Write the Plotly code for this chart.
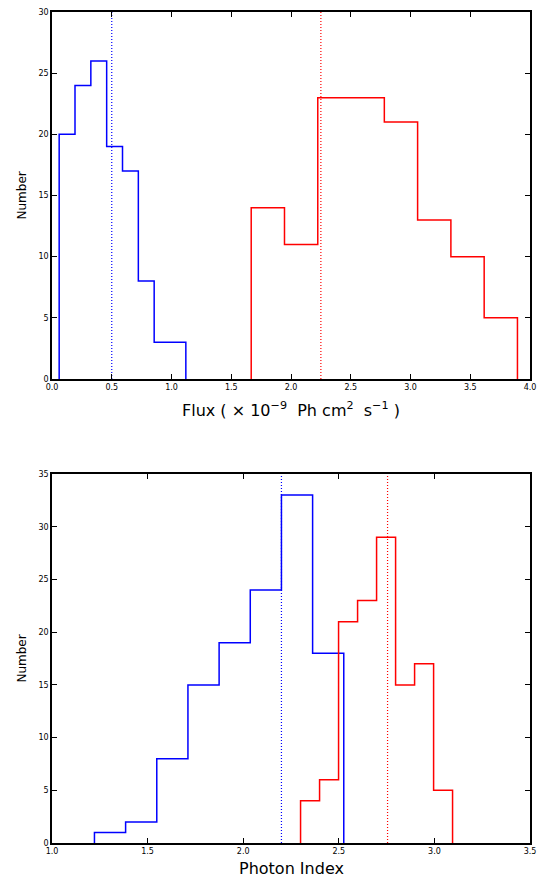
import plotly.graph_objects as go

# ---- data ----
flux_blue_edges = [0.06, 0.1925, 0.325, 0.4575, 0.59, 0.7225, 0.855, 0.9875, 1.12]
flux_blue_counts = [20, 24, 26, 19, 17, 8, 3, 3]
flux_red_edges = [1.667, 1.9455, 2.224, 2.5025, 2.781, 3.0595, 3.338, 3.6165, 3.895]
flux_red_counts = [14, 11, 23, 23, 21, 13, 10, 5]
flux_blue_mean = 0.50
flux_red_mean = 2.25

idx_blue_edges = [1.222, 1.385, 1.548, 1.711, 1.874, 2.037, 2.200, 2.363, 2.526]
idx_blue_counts = [1, 2, 8, 15, 19, 24, 33, 18]
idx_red_edges = [2.300, 2.3994, 2.4988, 2.5982, 2.6976, 2.797, 2.8964, 2.9958, 3.095]
idx_red_counts = [4, 6, 21, 23, 29, 15, 17, 5]
idx_blue_mean = 2.20
idx_red_mean = 2.755

flux_xticks = [0.0, 0.5, 1.0, 1.5, 2.0, 2.5, 3.0, 3.5, 4.0]
flux_yticks = [0, 5, 10, 15, 20, 25, 30]
idx_xticks = [1.0, 1.5, 2.0, 2.5, 3.0, 3.5]
idx_yticks = [0, 5, 10, 15, 20, 25, 30, 35]


def step_xy(edges, counts):
    xs, ys = [edges[0]], [0]
    for i, c in enumerate(counts):
        xs += [edges[i], edges[i + 1]]
        ys += [c, c]
    xs.append(edges[-1])
    ys.append(0)
    return xs, ys


fig = go.Figure()
BLUE = "rgb(0,0,255)"
RED = "rgb(255,0,0)"

for edges, counts, col, ax in [
    (flux_blue_edges, flux_blue_counts, BLUE, ("x", "y")),
    (flux_red_edges, flux_red_counts, RED, ("x", "y")),
    (idx_blue_edges, idx_blue_counts, BLUE, ("x2", "y2")),
    (idx_red_edges, idx_red_counts, RED, ("x2", "y2")),
]:
    xs, ys = step_xy(edges, counts)
    fig.add_trace(go.Scatter(x=xs, y=ys, mode="lines", line=dict(color=col, width=1.5),
                             xaxis=ax[0], yaxis=ax[1], showlegend=False, hoverinfo="skip"))

for m, col, ax, top in [
    (flux_blue_mean, BLUE, ("x", "y"), 30),
    (flux_red_mean, RED, ("x", "y"), 30),
    (idx_blue_mean, BLUE, ("x2", "y2"), 35),
    (idx_red_mean, RED, ("x2", "y2"), 35),
]:
    fig.add_trace(go.Scatter(x=[m, m], y=[0, top], mode="lines",
                             line=dict(color=col, width=1.2, dash="1px,2px"),
                             xaxis=ax[0], yaxis=ax[1], showlegend=False, hoverinfo="skip"))

axis_common = dict(showgrid=False, zeroline=False, showline=True, linecolor="black",
                   linewidth=1.5, mirror="ticks", ticks="inside", ticklen=5,
                   tickwidth=1, tickcolor="black", automargin=False,
                   ticklabeloverflow="allow",
                   tickfont=dict(family="DejaVu Sans", size=8, color="black"))

TOP_DOM = [0.5584, 1]
BOT_DOM = [0, 0.444]

fig.update_layout(
    width=541, height=874,
    margin=dict(l=44, r=19, t=4, b=39),
    plot_bgcolor="white", paper_bgcolor="white",
    font=dict(family="DejaVu Sans", color="black"),
    xaxis=dict(range=[0, 4], tickvals=flux_xticks, ticktext=[f"{v:.1f}" for v in flux_xticks],
               anchor="y", domain=[0, 1], **axis_common),
    yaxis=dict(range=[0, 30], tickvals=flux_yticks, anchor="x", domain=TOP_DOM, **axis_common),
    xaxis2=dict(range=[1, 3.5], tickvals=idx_xticks, ticktext=[f"{v:.1f}" for v in idx_xticks],
                anchor="y2", domain=[0, 1], **axis_common),
    yaxis2=dict(range=[0, 35], tickvals=idx_yticks, anchor="x2", domain=BOT_DOM, **axis_common),
    annotations=[
        dict(text="Flux ( × 10<sup>−9</sup>  Ph cm<sup>2</sup>  s<sup>−1</sup> )",
             xref="paper", yref="paper", x=0.5, y=TOP_DOM[0], yshift=-18,
             xanchor="center", yanchor="top", showarrow=False, font=dict(size=16)),
        dict(text="Photon Index", xref="paper", yref="paper", x=0.5, y=BOT_DOM[0], yshift=-14,
             xanchor="center", yanchor="top", showarrow=False, font=dict(size=16)),
        dict(text="Number", xref="paper", yref="paper", x=0, xshift=-30,
             y=(TOP_DOM[0] + TOP_DOM[1]) / 2, textangle=-90, xanchor="center", yanchor="middle",
             showarrow=False, font=dict(size=12)),
        dict(text="Number", xref="paper", yref="paper", x=0, xshift=-30,
             y=(BOT_DOM[0] + BOT_DOM[1]) / 2, textangle=-90, xanchor="center", yanchor="middle",
             showarrow=False, font=dict(size=12)),
    ],
)

fig.write_html("out.html")
